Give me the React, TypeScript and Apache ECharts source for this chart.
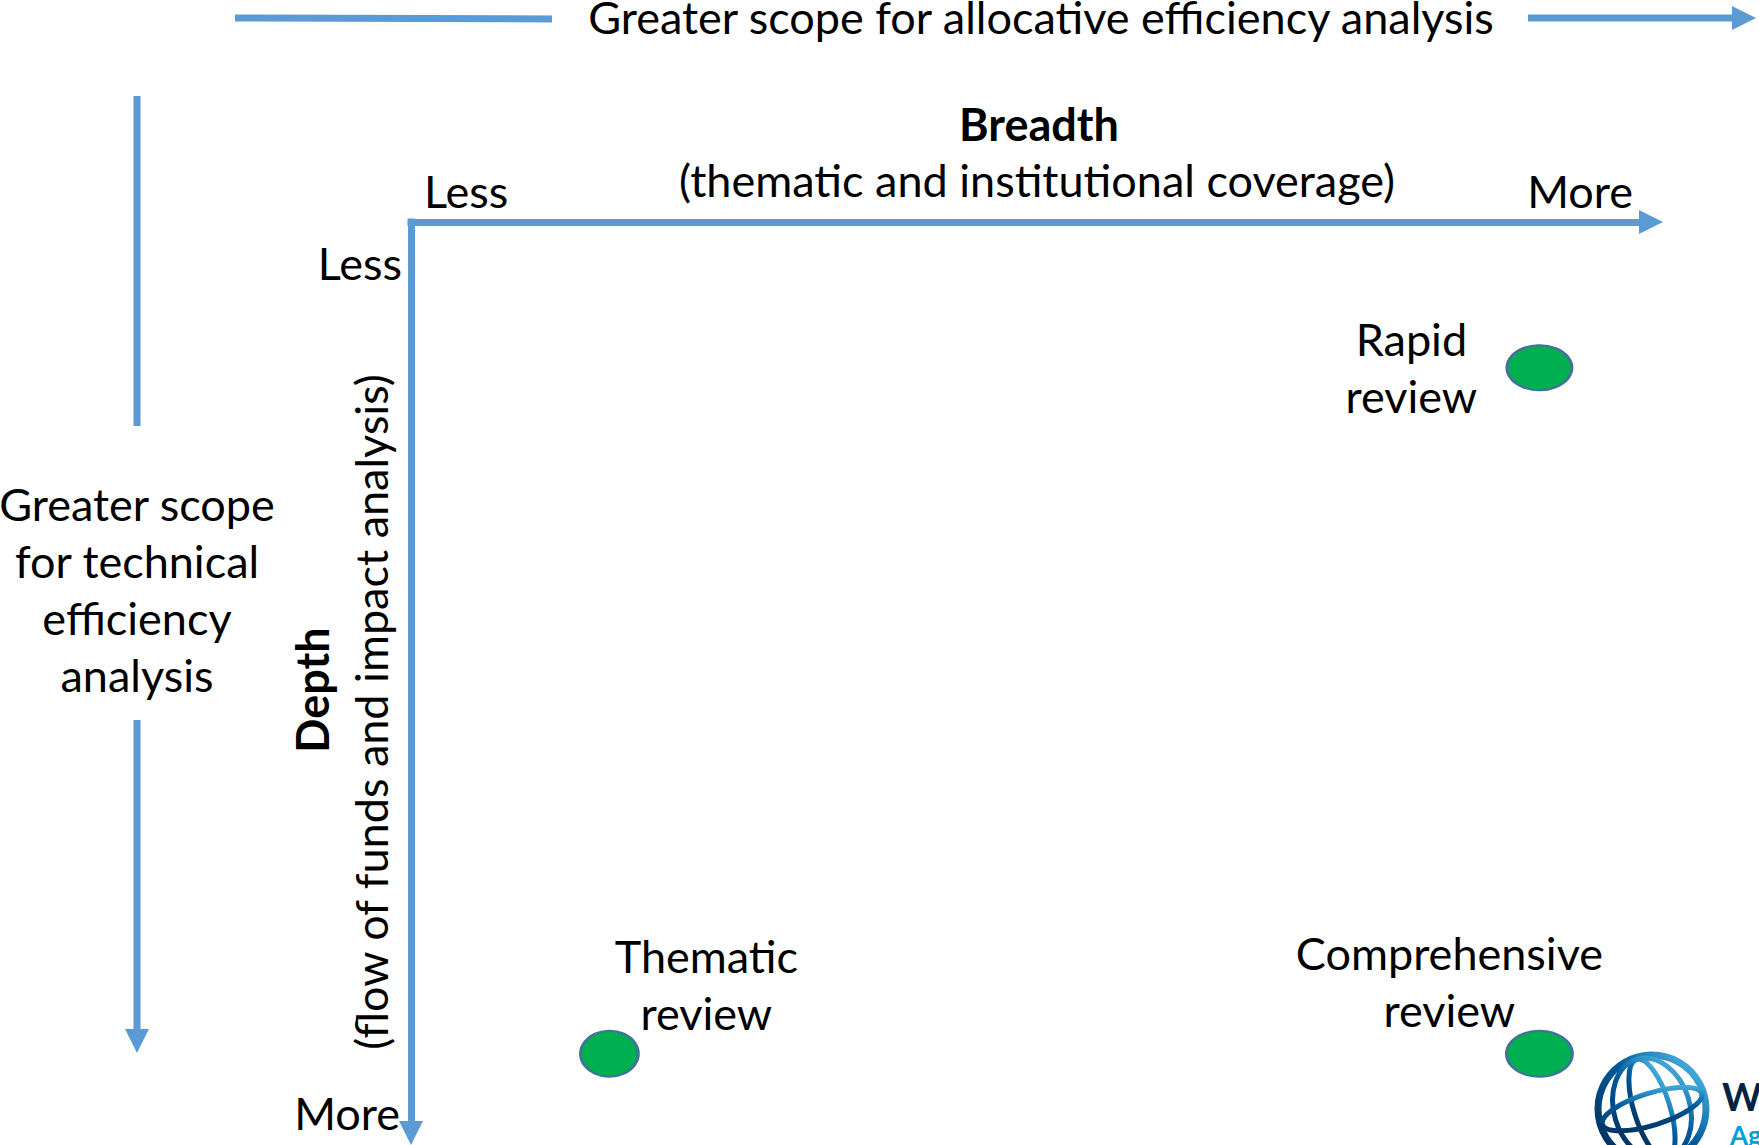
import React, { useEffect, useRef } from "react";
import * as echarts from "echarts";

// ---- data ----
const reviewNames = ["Rapid review", "Thematic review", "Comprehensive review"];
const breadthValues = [91, 16, 91]; // 0 = less breadth, 100 = more
const depthValues = [16, 91.3, 91.3]; // 0 = less depth, 100 = more
const breadthTicks = ["Less", "More"];
const depthTicks = ["Less", "More"];
const breadthTitle = ["Breadth", "(thematic and institutional coverage)"];
const depthTitle = ["Depth", "(flow of funds and impact analysis)"];
const allocativeText = "Greater scope for allocative efficiency analysis";
const technicalLines = ["Greater scope", "for technical", "efficiency", "analysis"];

// ---- styles ----
const BLUE = "#5B9BD5";
const FONT = "Lato, 'Open Sans', sans-serif";
const FS = 45;
const symbolSizes = [
  [65, 45],
  [58, 46],
  [66, 46],
];
const labelOffsets = [
  [-128, 0],
  [97, -69],
  [-90, -72],
];

function txt(text: string, x: number, y: number, opts: any = {}) {
  return {
    type: "text",
    x,
    y,
    rotation: opts.rotation || 0,
    style: {
      text,
      fill: "#000",
      fontSize: opts.fontSize || FS,
      fontFamily: FONT,
      fontWeight: opts.bold ? "bold" : "normal",
      align: opts.align || "center",
      verticalAlign: "middle",
      lineHeight: opts.lineHeight || 50,
    },
  };
}

export default function App() {
  const ref = useRef<HTMLDivElement>(null);
  useEffect(() => {
    if (!ref.current) return;
    const chart = echarts.init(ref.current, undefined, { renderer: "svg" });
    const lineStyle = { stroke: BLUE, lineWidth: 7 };
    const globeGrad = new echarts.graphic.LinearGradient(0, 1, 1, 0, [
      { offset: 0, color: "#00284F" },
      { offset: 0.55, color: "#005A9C" },
      { offset: 1, color: "#5CC8F0" },
    ]);
    const gx = 1652,
      gy = 1109;
    const graphic: any[] = [
      // top allocative arrow
      { type: "line", shape: { x1: 235, y1: 18, x2: 552, y2: 19 }, style: lineStyle },
      { type: "line", shape: { x1: 1528, y1: 18, x2: 1735, y2: 18 }, style: lineStyle },
      { type: "polygon", shape: { points: [[1732, 6], [1756, 18], [1732, 30]] }, style: { fill: BLUE } },
      txt(allocativeText, 1041, 17, { lineHeight: 34 }),
      // left technical arrow
      { type: "line", shape: { x1: 137, y1: 96, x2: 137, y2: 426 }, style: lineStyle },
      { type: "line", shape: { x1: 137, y1: 720, x2: 137, y2: 1032 }, style: lineStyle },
      { type: "polygon", shape: { points: [[125, 1029], [149, 1029], [137, 1053]] }, style: { fill: BLUE } },
      ...technicalLines.map((t, i) => txt(t, 137, 504 + i * 57)),
      // axis titles
      txt(breadthTitle[0], 1039, 124, { bold: true }),
      txt(breadthTitle[1], 1037, 180),
      txt(depthTitle[0], 312, 690, { bold: true, rotation: Math.PI / 2 }),
      txt(depthTitle[1], 371, 712, { rotation: Math.PI / 2 }),
      // axis end labels
      txt(breadthTicks[0], 424, 191, { align: "left" }),
      txt(breadthTicks[1], 1633, 191, { align: "right" }),
      txt(depthTicks[0], 402, 263, { align: "right" }),
      txt(depthTicks[1], 400, 1113, { align: "right" }),
      // logo (partially cropped)
      { type: "circle", shape: { cx: gx, cy: gy, r: 54 }, style: { fill: "none", stroke: globeGrad, lineWidth: 7 } },
      { type: "ellipse", x: gx, y: gy, rotation: 0.3, shape: { cx: 0, cy: 0, rx: 18, ry: 52 }, style: { fill: "none", stroke: globeGrad, lineWidth: 5 } },
      { type: "ellipse", x: gx, y: gy, rotation: 0.3, shape: { cx: 0, cy: 0, rx: 38, ry: 52 }, style: { fill: "none", stroke: globeGrad, lineWidth: 5 } },
      { type: "ellipse", x: gx, y: gy, rotation: 0.3, shape: { cx: 0, cy: 0, rx: 52, ry: 16 }, style: { fill: "none", stroke: globeGrad, lineWidth: 5 } },
      {
        type: "text",
        x: 1722,
        y: 1096,
        style: { text: "W", fill: "#002244", fontSize: 38, fontWeight: "bold", fontFamily: FONT, align: "left", verticalAlign: "middle", lineHeight: 28 },
      },
      {
        type: "text",
        x: 1730,
        y: 1135,
        style: { text: "Ag", fill: "#009FDA", fontSize: 26, fontWeight: "bold", fontFamily: FONT, align: "left", verticalAlign: "middle", lineHeight: 20 },
      },
    ];

    const axisBase = {
      show: true,
      onZero: false,
      symbolSize: [24, 24],
      lineStyle: { color: BLUE, width: 7, cap: "square" },
    };

    chart.setOption({
      animation: false,
      backgroundColor: "#fff",
      grid: { left: 411, top: 222, width: 1240, height: 911 },
      xAxis: {
        type: "value",
        min: 0,
        max: 100,
        position: "top",
        axisLine: { ...axisBase, symbol: ["none", "triangle"] },
        axisTick: { show: false },
        axisLabel: { show: false },
        splitLine: { show: false },
      },
      yAxis: {
        type: "value",
        min: 0,
        max: 100,
        inverse: true,
        axisLine: { ...axisBase, symbol: ["triangle", "none"] },
        axisTick: { show: false },
        axisLabel: { show: false },
        splitLine: { show: false },
      },
      graphic,
      series: [
        {
          type: "scatter",
          symbol: "circle",
          itemStyle: { color: "#00B050", borderColor: "#41719C", borderWidth: 2.5, opacity: 1 },
          label: {
            show: true,
            position: "inside",
            color: "#000",
            fontSize: FS,
            fontFamily: FONT,
            lineHeight: 57,
            align: "center",
            formatter: (p: any) => p.name.replace(" ", "\n"),
          },
          data: reviewNames.map((name, i) => ({
            name,
            value: [breadthValues[i], depthValues[i]],
            symbolSize: symbolSizes[i],
            label: { offset: labelOffsets[i] },
          })),
        },
      ],
    });
    return () => chart.dispose();
  }, []);
  return (
    <div
      ref={ref}
      style={{ position: "fixed", left: 0, top: 0, width: 1759, height: 1145, background: "#fff" }}
    />
  );
}
